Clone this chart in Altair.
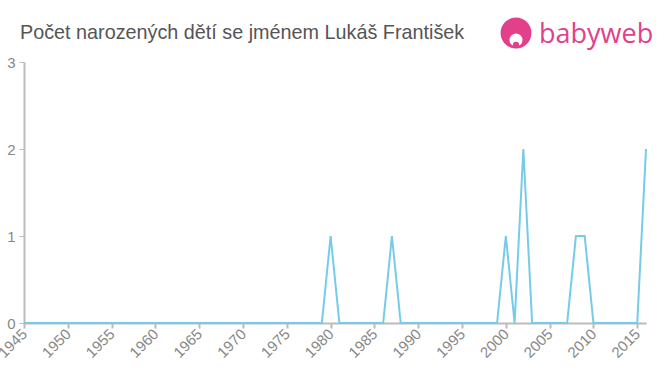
import altair as alt
import pandas as pd

years = list(range(1945, 2017))
counts = (
    [0] * 35          # 1945-1979
    + [1]             # 1980
    + [0] * 6         # 1981-1986
    + [1]             # 1987
    + [0] * 12        # 1988-1999
    + [1, 0, 2]       # 2000-2002
    + [0] * 5         # 2003-2007
    + [1, 1]          # 2008-2009
    + [0] * 6         # 2010-2015
    + [2]             # 2016
)
tick_years = list(range(1945, 2016, 5))
y_ticks = [0, 1, 2, 3]
title_text = "Počet narozených dětí se jménem Lukáš František"
logo_text = "babyweb"

df = pd.DataFrame({"year": years, "count": counts})
dummy = pd.DataFrame({"k": [0]})

FONT = "Liberation Sans"

line = alt.Chart(df).mark_line(color="#76cbe9", strokeWidth=2, clip=False).encode(
    x=alt.X(
        "year:Q",
        scale=alt.Scale(domain=[1945, 2016], nice=False, zero=False),
        axis=alt.Axis(
            values=tick_years,
            format="d",
            title=None,
            grid=False,
            labelAngle=-45,
            labelAlign="right",
            labelBaseline="middle",
            labelFontSize=15,
            labelColor="#888888",
            labelFont=FONT,
            labelPadding=3,
            tickColor="#bbbbbb",
            tickSize=5,
            tickWidth=2,
            domainColor="#bbbbbb",
            domainWidth=2,
            labelFlush=False,
            labelOverlap=False,
        ),
    ),
    y=alt.Y(
        "count:Q",
        scale=alt.Scale(domain=[0, 3], nice=False),
        axis=alt.Axis(
            values=y_ticks,
            format="d",
            title=None,
            grid=False,
            labelFontSize=15,
            labelColor="#888888",
            labelFont=FONT,
            labelPadding=4,
            tickColor="#bbbbbb",
            tickSize=5,
            tickWidth=1,
            domainColor="#bbbbbb",
            domainWidth=2,
        ),
    ),
)

title = alt.Chart(dummy).mark_text(
    align="left", baseline="middle", fontSize=19.8, font=FONT, color="#555555"
).encode(x=alt.value(-4), y=alt.value(-29), text=alt.value(title_text))

logo_circle = alt.Chart(dummy).mark_point(
    filled=True, color="#e2408a", opacity=1, shape="circle", size=950
).encode(x=alt.value(492), y=alt.value(-29))

logo_face = alt.Chart(dummy).mark_point(
    filled=True, color="#ffffff", opacity=1, shape="circle", size=170
).encode(x=alt.value(492), y=alt.value(-22))

logo_chin = alt.Chart(dummy).mark_point(
    filled=True, color="#e2408a", opacity=1, shape="circle", size=40
).encode(x=alt.value(492), y=alt.value(-17))

logo = alt.Chart(dummy).mark_text(
    align="left", baseline="middle", fontSize=27, font="Open Sans", fontWeight=500, color="#e2408a"
).encode(x=alt.value(515), y=alt.value(-27), text=alt.value(logo_text))

chart = alt.layer(line, title, logo_circle, logo_face, logo_chin, logo).properties(
    width=622,
    height=261,
    autosize=alt.AutoSizeParams(type="none"),
    padding={"left": 24, "top": 62, "right": 14, "bottom": 52},
    background="#ffffff",
).configure_view(stroke=None)

chart.save("out.html", embed_options={"renderer": "svg", "actions": False})
